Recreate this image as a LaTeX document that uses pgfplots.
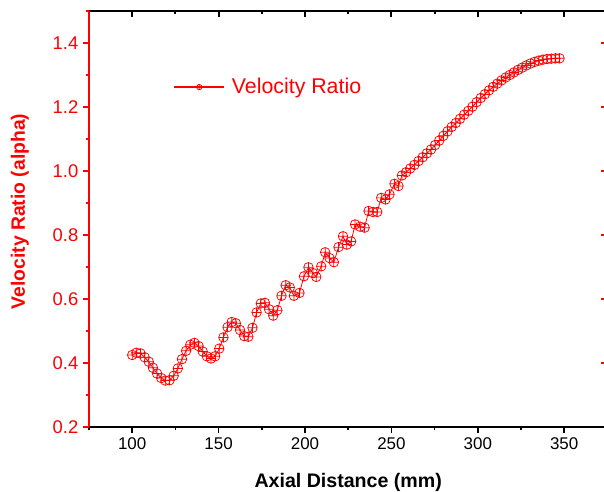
\documentclass[border=0pt]{standalone}
\usepackage{fontspec}
\setmainfont{Liberation Sans}
\usepackage{pgfplots}
\pgfplotsset{compat=1.18}
\pgfplotstableread{
x y
100.0 0.425
102.4 0.432
104.8 0.430
107.2 0.418
109.6 0.404
112.0 0.385
114.4 0.367
116.8 0.353
119.2 0.345
121.6 0.346
124.0 0.360
126.4 0.383
128.8 0.412
131.2 0.438
133.6 0.457
136.0 0.463
138.4 0.453
140.8 0.436
143.2 0.421
145.6 0.414
148.0 0.421
150.4 0.445
152.8 0.480
155.2 0.512
157.6 0.528
160.0 0.524
162.4 0.503
164.8 0.484
167.2 0.482
169.6 0.510
172.0 0.558
174.4 0.586
176.8 0.588
179.2 0.568
181.6 0.548
184.0 0.565
186.4 0.610
188.8 0.643
191.2 0.636
193.6 0.610
196.8 0.619
199.4 0.671
202.0 0.699
204.6 0.681
206.5 0.669
209.4 0.702
211.7 0.746
214.2 0.728
216.7 0.715
219.4 0.762
222.0 0.796
224.2 0.770
226.7 0.780
229.0 0.833
231.9 0.826
234.5 0.823
236.8 0.875
239.3 0.872
241.8 0.872
244.1 0.916
246.6 0.911
248.9 0.927
251.8 0.960
254.1 0.953
256.1 0.986
258.5 0.996
260.9 1.008
263.3 1.019
265.7 1.031
268.1 1.043
270.5 1.055
272.9 1.067
275.3 1.081
277.7 1.095
280.1 1.110
282.5 1.124
284.9 1.138
287.3 1.150
289.7 1.163
292.1 1.176
294.5 1.188
296.9 1.201
299.3 1.215
301.7 1.228
304.1 1.240
306.5 1.252
308.9 1.263
311.3 1.273
313.7 1.283
316.1 1.292
318.5 1.300
320.9 1.308
323.3 1.316
325.7 1.323
328.1 1.330
330.5 1.336
332.9 1.341
335.3 1.345
337.7 1.348
340.1 1.350
342.5 1.351
344.9 1.352
347.3 1.352
}\datatable
\begin{document}
\begin{tikzpicture}
\pgfplotsset{
  common/.style={
    anchor=south west, at={(0pt,0pt)},
    scale only axis, width=388.8pt, height=312pt,
    xmin=75, xmax=375, ymin=0.2, ymax=1.5,
    xtick={100,150,...,350}, minor xtick={75,125,...,375},
    ytick={0.2,0.4,0.6,0.8,1.0,1.2,1.4}, minor ytick={0.3,0.5,0.7,0.9,1.1,1.3,1.5},
    major tick length=4.5pt, minor tick length=2.5pt,
    separate axis lines,
    x axis line style={black, line width=1.5pt},
    y axis line style={red, line width=1.5pt},
    x tick style={black, line width=1.2pt},
    y tick style={red, line width=1.2pt},
    /pgf/number format/assume math mode=true,
  }
}
\begin{axis}[common,
  tick align=outside,
  xtick pos=left, ytick pos=left,
  xticklabel style={black, font=\fontsize{12.7}{15}\selectfont},
  yticklabel style={red, font=\fontsize{13.8}{16}\selectfont},
  yticklabel={\pgfmathprintnumber[fixed,fixed zerofill,precision=1]{\tick}},
  xlabel={\textbf{Axial Distance (mm)}},
  xlabel style={at={(axis description cs:0.5,0)}, anchor=base, yshift=-45.75pt, font=\fontsize{14.7}{17}\selectfont},
  ylabel={\textbf{Velocity Ratio (alpha)}},
  ylabel style={at={(axis description cs:-0.1331,0.518)}, anchor=center, red, font=\fontsize{14.5}{17}\selectfont},
  legend style={at={(0.162,0.817)}, anchor=west, draw=none, fill=none,
    font=\fontsize{16}{19}\selectfont, text=red, inner sep=0pt,
    nodes={inner sep=0pt}, column sep=5pt},
  legend image code/.code={
    \draw[red, line width=1.5pt] (0pt,0pt) -- (37.5pt,0pt);
    \draw[red, line width=0.6pt] (18.75pt,0pt) circle (2pt) (16.75pt,0pt) -- (20.75pt,0pt) (18.75pt,-2pt) -- (18.75pt,2pt);
  },
]
\addplot[red, line width=0.6pt, mark=oplus, mark size=3.6pt,
  mark options={solid, draw=red, line width=0.55pt, fill=none}]
  table[x=x, y=y] {\datatable};
\addlegendentry{Velocity Ratio}
\end{axis}
\begin{axis}[common,
  tick align=inside,
  xtick pos=right, ytick pos=right,
  xticklabels={}, yticklabels={},
  x tick style={black, line width=1.4pt},
]
\end{axis}
\pgfresetboundingbox
\path[use as bounding box] (-66.75pt,-48.75pt) rectangle (386.25pt,320.25pt);
\end{tikzpicture}
\end{document}
